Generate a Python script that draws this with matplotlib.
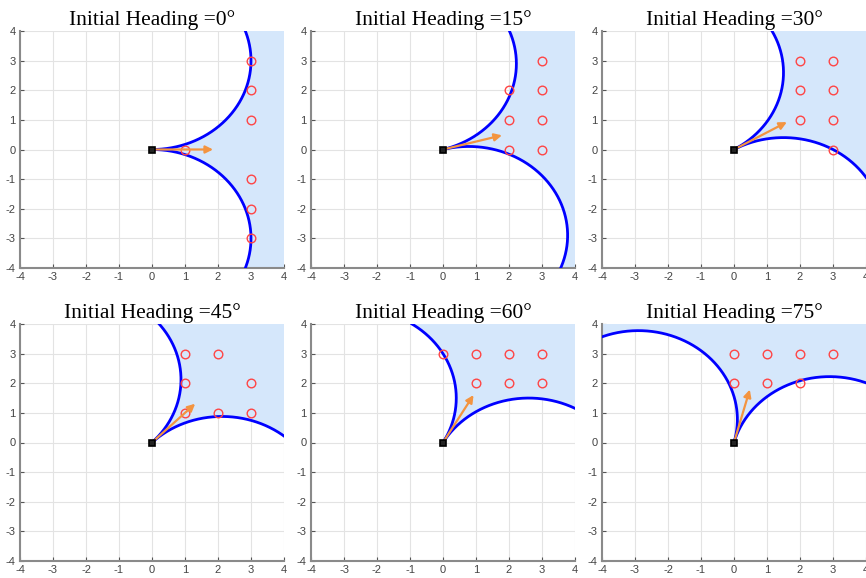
import numpy as np
import matplotlib
matplotlib.use("Agg")
import matplotlib.pyplot as plt

# Vehicle setup
headings_deg = [0, 15, 30, 45, 60, 75]
turn_radius = 3.0
arrow_len = 1.85
lim = 4.0

# Candidate goal points shown in each panel
targets = {
    0:  [(1, 0), (3, 3), (3, 2), (3, 1), (3, -1), (3, -2), (3, -3)],
    15: [(2, 2), (3, 3), (3, 2), (2, 1), (3, 1), (2, 0), (3, 0)],
    30: [(2, 3), (3, 3), (2, 2), (3, 2), (2, 1), (3, 1), (3, 0)],
    45: [(1, 3), (2, 3), (1, 2), (3, 2), (1, 1), (2, 1), (3, 1)],
    60: [(0, 3), (1, 3), (2, 3), (3, 3), (1, 2), (2, 2), (3, 2)],
    75: [(0, 3), (1, 3), (2, 3), (3, 3), (0, 2), (1, 2), (2, 2)],
}
ticks = [-4, -3, -2, -1, 0, 1, 2, 3, 4]

BLUE = "#0000ff"
FILL = "#d5e7fb"
ORANGE = "#f39440"
RED = "#ff4545"


def trace_arc(center, phi0, direction, r):
    """Follow a turning circle from the origin until it leaves the box."""
    phis = phi0 + direction * np.linspace(0, 2 * np.pi, 20000)
    pts = np.column_stack([center[0] + r * np.cos(phis), center[1] + r * np.sin(phis)])
    inside = (np.abs(pts[:, 0]) <= lim) & (np.abs(pts[:, 1]) <= lim)
    out_idx = np.argmax(~inside[1:]) + 1
    arc = pts[:out_idx + 1].copy()
    arc[-1] = np.clip(arc[-1], -lim, lim)
    return arc


def perim(p):
    x, y = p
    if abs(y - lim) < 1e-6:
        return x + lim
    if abs(x - lim) < 1e-6:
        return 2 * lim + (lim - y)
    if abs(y + lim) < 1e-6:
        return 4 * lim + (lim - x)
    return 6 * lim + (y + lim)


corner_pts = {0.0: (-lim, lim), 8.0: (lim, lim), 16.0: (lim, -lim), 24.0: (-lim, -lim)}

W, H = 866, 578
col_left = [20, 311, 602]
row_top = [31, 324]
aw, ah = 264, 237

plt.rcParams["font.family"] = ["Liberation Sans", "DejaVu Sans"]
plt.rcParams["axes.unicode_minus"] = False
fig = plt.figure(figsize=(W / 100, H / 100), dpi=100)

for k, hd in enumerate(headings_deg):
    r_i, c_i = divmod(k, 3)
    ax = fig.add_axes([col_left[c_i] / W, 1 - (row_top[r_i] + ah) / H, aw / W, ah / H])
    th = np.radians(hd)

    cL = turn_radius * np.array([-np.sin(th), np.cos(th)])
    cR = turn_radius * np.array([np.sin(th), -np.cos(th)])
    left = trace_arc(cL, th - np.pi / 2, +1, turn_radius)
    right = trace_arc(cR, th + np.pi / 2, -1, turn_radius)

    s1, s2 = perim(left[-1]), perim(right[-1])
    span = (s2 - s1) % 32
    corners = sorted([c for c in corner_pts if (c - s1) % 32 < span], key=lambda c: (c - s1) % 32)
    poly = np.vstack([left, [corner_pts[c] for c in corners], right[::-1]])

    ax.fill(poly[:, 0], poly[:, 1], color=FILL, lw=0, zorder=1)
    ax.plot(left[:, 0], left[:, 1], color=BLUE, lw=2.0, zorder=3)
    ax.plot(right[:, 0], right[:, 1], color=BLUE, lw=2.0, zorder=3)

    tx = [p[0] for p in targets[hd]]
    ty = [p[1] for p in targets[hd]]
    ax.plot(tx, ty, "o", ms=6.2, mfc="none", mec=RED, mew=1.0, zorder=4)

    ax.annotate("", xy=(arrow_len * np.cos(th), arrow_len * np.sin(th)), xytext=(0, 0),
                arrowprops=dict(arrowstyle="-|>", color=ORANGE, lw=1.6, mutation_scale=11,
                                shrinkA=0, shrinkB=0), zorder=5)
    ax.plot([0], [0], "s", ms=4.2, mfc="#222222", mec="black", mew=1.2, zorder=6)

    ax.set_xlim(-lim, lim)
    ax.set_ylim(-lim, lim)
    ax.set_xticks(ticks)
    ax.set_yticks(ticks)
    ax.grid(True, color="#e3e3e3", lw=0.8, zorder=0)
    ax.set_axisbelow(True)
    for side in ("top", "right"):
        ax.spines[side].set_visible(False)
    for side in ("left", "bottom"):
        ax.spines[side].set_color("#8a8a8a")
        ax.spines[side].set_linewidth(1.5)
    ax.tick_params(direction="in", length=3, width=0.8, color="#555555",
                   labelsize=8, labelcolor="#444444", pad=3)
    ax.set_title(f"Initial Heading ={hd}°", fontsize=15.5, family="Liberation Serif", pad=4)

fig.savefig("out.png", dpi=100)
